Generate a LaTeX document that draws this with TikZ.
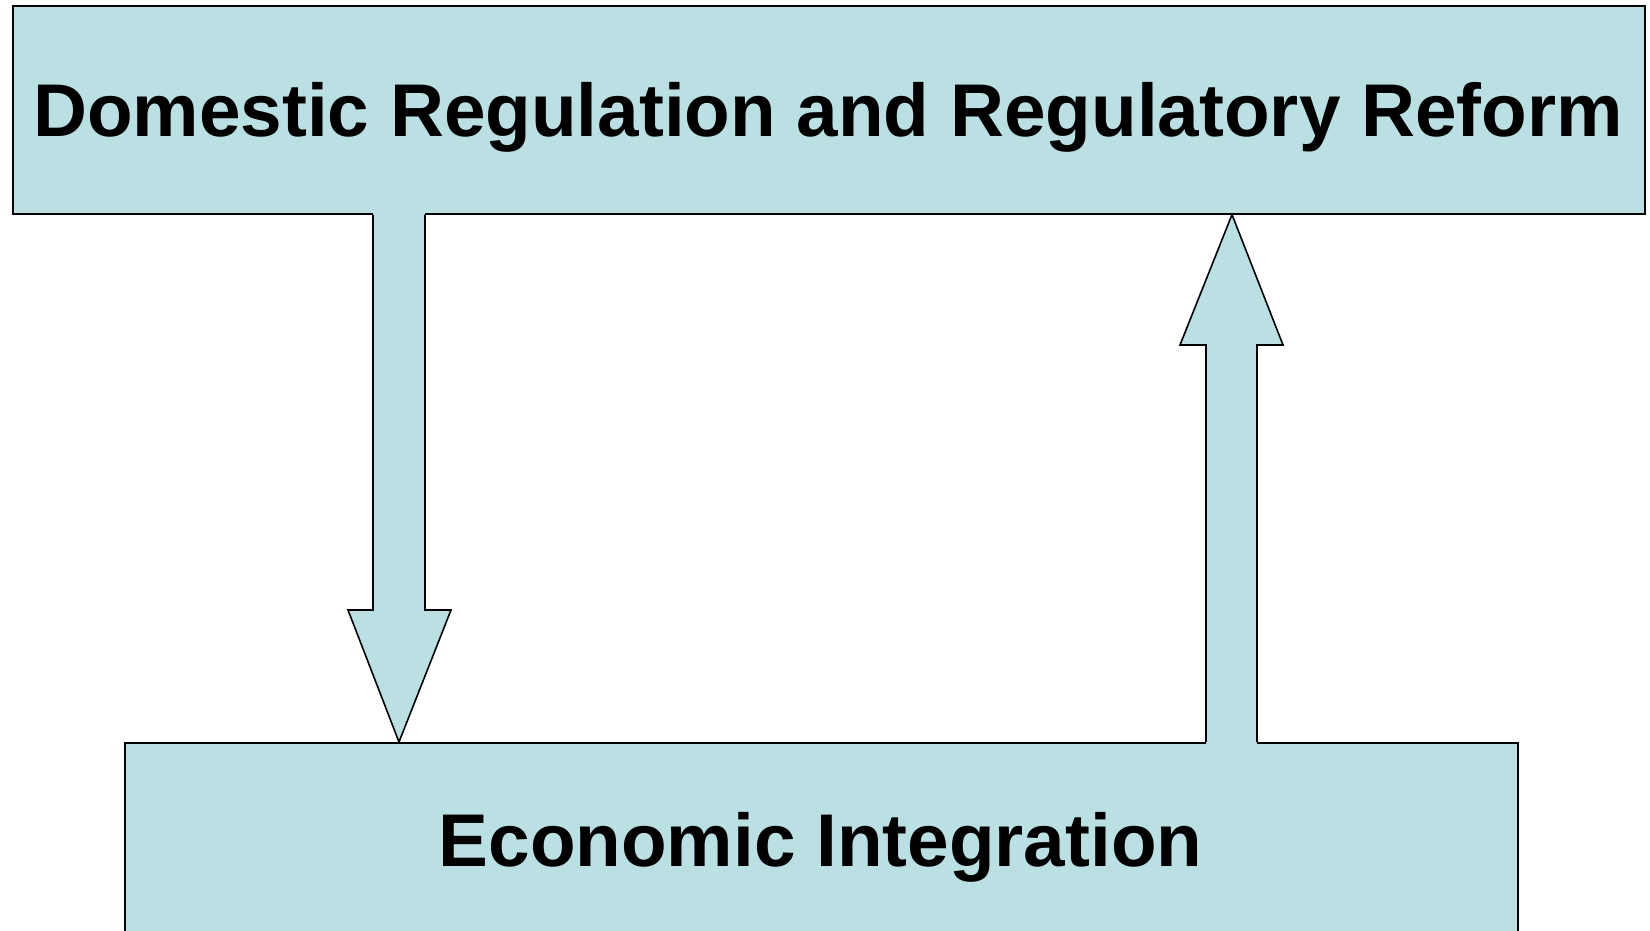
\documentclass[tikz,border=0pt]{standalone}
\usepackage{fontspec}
\setmainfont{Liberation Sans}
\usetikzlibrary{calc}
\definecolor{boxfill}{RGB}{187,224,227}
\begin{document}
\begin{tikzpicture}[x=1pt,y=-1pt,
  box/.style={draw=black, line width=1.6pt, fill=boxfill, inner sep=0pt, anchor=north west},
  arrowfill/.style={fill=boxfill},
  arrowline/.style={draw=black, line width=1.6pt, line join=miter},
  label/.style={anchor=base, font=\bfseries\fontsize{74.7}{80}\selectfont, inner sep=0pt}]
\useasboundingbox (0,0) rectangle (1650,931);
\clip (0,0) rectangle (1650,931);
\node[box, minimum width=1632pt, minimum height=208pt] (reg) at (12,5) {};
\node[box, minimum width=1393pt, minimum height=240pt] (int) at (124,742) {};
% down arrow
\fill[arrowfill] (373,211) -- (373,610) -- (348,610) -- (399,0 |- int.north) -- (451,610) -- (425,610) -- (425,211) -- cycle;
\draw[arrowline] (373,0 |- reg.south) -- (373,610) -- (348,610) -- (399,0 |- int.north) -- (451,610) -- (425,610) -- (425,0 |- reg.south);
% up arrow
\fill[arrowfill] (1206,744) -- (1206,345) -- (1180,345) -- (1232,0 |- reg.south) -- (1283,345) -- (1257,345) -- (1257,744) -- cycle;
\draw[arrowline] (1206,0 |- int.north) -- (1206,345) -- (1180,345) -- (1232,0 |- reg.south) -- (1283,345) -- (1257,345) -- (1257,0 |- int.north);
\node[label] (regtext) at (828,137) {Domestic Regulation and Regulatory Reform};
\node[label] (inttext) at (820.5,866) {Economic Integration};
\end{tikzpicture}
\end{document}
